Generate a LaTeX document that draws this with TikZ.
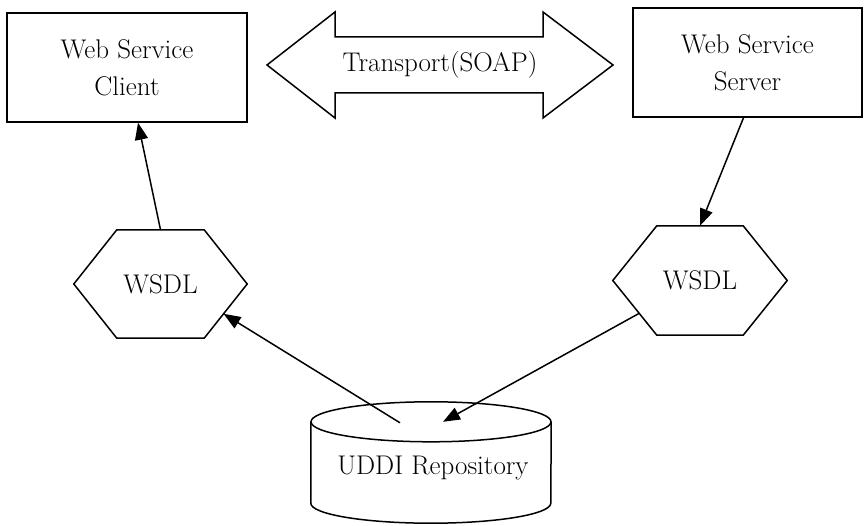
\documentclass[tikz,border=0pt]{standalone}
\usetikzlibrary{calc,arrows.meta}
\begin{document}
\begin{tikzpicture}[x=1pt,y=-1pt,
  every node/.style={font=\fontsize{27}{37}\selectfont, align=center},
  line/.style={line width=1.5pt},
  box/.style={draw, line width=1.5pt, inner sep=0pt},
  hexbox/.style={inner sep=0pt, minimum width=173pt, minimum height=108pt},
  flow/.style={line width=1.5pt, -{Triangle[length=17pt,width=13pt]}},
  line join=miter]
\useasboundingbox (0,0) rectangle (864,526);

% hexagon drawn around a named node, with corners inset by #2
\newcommand\hexoutline[2]{%
  \draw[line] (#1.west) -- ($(#1.north west)+(#2,0)$) -- ($(#1.north east)+(-#2,0)$)
    -- (#1.east) -- ($(#1.south east)+(-#2,0)$) -- ($(#1.south west)+(#2,0)$) -- cycle;}

% client and server boxes
\node[box, minimum width=240pt, minimum height=109pt] (client) at (127,67.5) {Web Service\\Client};
\node[box, minimum width=229pt, minimum height=109pt] (server) at (747.5,62.5) {Web Service\\Server};

% transport double arrow
\node (soap) at (440,65) {Transport(SOAP)};
\draw[line] ($(soap)+(-173,0)$) -- ($(soap)+(-105,-53)$) -- ($(soap)+(-105,-28)$)
  -- ($(soap)+(103,-28)$) -- ($(soap)+(103,-53)$) -- ($(soap)+(173,0)$)
  -- ($(soap)+(103,53)$) -- ($(soap)+(103,28)$) -- ($(soap)+(-105,28)$)
  -- ($(soap)+(-105,53)$) -- cycle;

% WSDL hexagons
\node[hexbox] (wl) at (160.5,284) {WSDL};
\hexoutline{wl}{43}
\node[hexbox, minimum width=174pt, minimum height=109pt] (wr) at (700,280.5) {WSDL};
\hexoutline{wr}{44}

% UDDI repository cylinder
\node[minimum width=240pt, minimum height=121pt, inner sep=0pt] (uddi) at (431,462.5) {};
\node at (433,468) {UDDI Repository};
\draw[line] ($(uddi.north)+(0,20)$) ellipse [x radius=120, y radius=20];
\draw[line] ($(uddi.north west)+(0,20)$) -- ($(uddi.south west)+(0,-20)$)
  arc [start angle=180, end angle=360, x radius=120, y radius=-20]
  -- ($(uddi.north east)+(0,20)$);

% connectors
\draw[flow] (wl.north) -- ($(client.south)+(11,0)$);
\draw[flow] ($(server.south)+(-4,0)$) -- (wr.north);
\draw[flow] ($(wr.west)!0.6!($(wr.south west)+(44,0)$)$) -- ($(uddi.north)+(12,20)$);
\draw[flow] ($(uddi.north)+(-31,21)$) -- ($(wl.east)!0.55!($(wl.south east)+(-43,0)$)$);
\end{tikzpicture}
\end{document}
